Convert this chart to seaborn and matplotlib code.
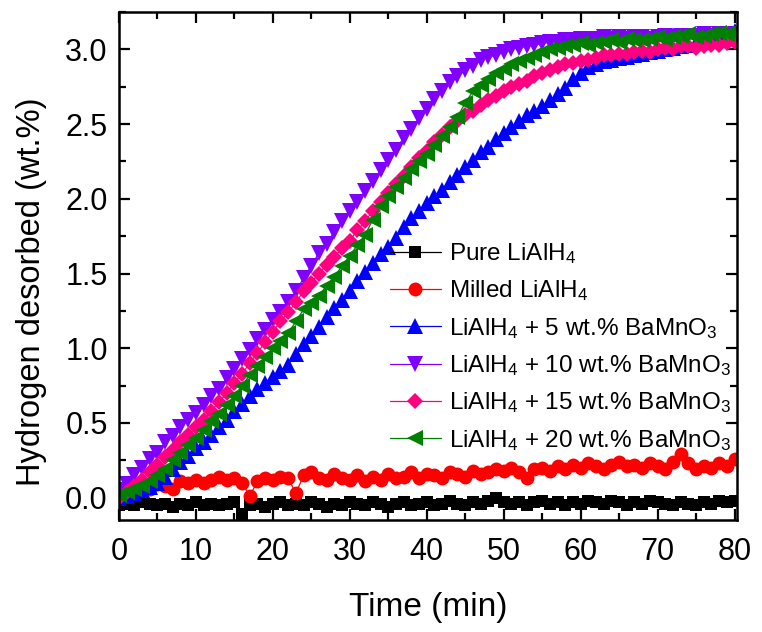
import numpy as np
import pandas as pd
import matplotlib
matplotlib.use("Agg")
import matplotlib.pyplot as plt
import seaborn as sns

time_min = list(range(0, 81))

pure = [-0.05, -0.04, -0.05, -0.03, -0.04, -0.05, -0.04, -0.06, -0.04, -0.05,
        -0.03, -0.05, -0.04, -0.05, -0.04, -0.03, -0.11, -0.05, -0.04, -0.06,
        -0.04, -0.03, -0.05, -0.04, -0.05, -0.03, -0.04, -0.06, -0.04, -0.05,
        -0.03, -0.04, -0.05, -0.03, -0.04, -0.06, -0.04, -0.03, -0.05, -0.04,
        -0.03, -0.05, -0.04, -0.02, -0.04, -0.05, -0.03, -0.04, -0.02, 0.00,
        -0.03, -0.04, -0.03, -0.05, -0.03, -0.02, -0.04, -0.03, -0.05, -0.03,
        -0.04, -0.02, -0.03, -0.04, -0.02, -0.03, -0.05, -0.03, -0.04, -0.02,
        -0.03, -0.04, -0.05, -0.03, -0.04, -0.05, -0.03, -0.04, -0.02, -0.03,
        -0.02]

milled = [0.02, 0.03, 0.05, 0.07, 0.06, 0.09, 0.08, 0.06, 0.11, 0.10,
          0.12, 0.10, 0.12, 0.14, 0.12, 0.13, 0.10, 0.01, 0.11, 0.13,
          0.12, 0.14, 0.13, 0.03, 0.15, 0.17, 0.13, 0.12, 0.16, 0.13,
          0.12, 0.15, 0.11, 0.14, 0.12, 0.16, 0.13, 0.14, 0.17, 0.13,
          0.16, 0.15, 0.13, 0.17, 0.16, 0.14, 0.18, 0.16, 0.17, 0.19,
          0.18, 0.20, 0.17, 0.13, 0.19, 0.20, 0.18, 0.21, 0.19, 0.22,
          0.20, 0.23, 0.21, 0.19, 0.22, 0.24, 0.21, 0.22, 0.20, 0.23,
          0.21, 0.19, 0.24, 0.29, 0.23, 0.19, 0.21, 0.20, 0.23, 0.21,
          0.26]

bamno_5 = [0.00, 0.01, 0.03, 0.05, 0.07, 0.10, 0.14, 0.19, 0.24, 0.28,
           0.33, 0.37, 0.42, 0.47, 0.52, 0.58, 0.63, 0.68, 0.73, 0.77,
           0.81, 0.85, 0.89, 0.96, 1.03, 1.08, 1.14, 1.21, 1.27, 1.32,
           1.38, 1.45, 1.51, 1.57, 1.63, 1.68, 1.74, 1.81, 1.87, 1.92,
           1.97, 2.02, 2.06, 2.11, 2.16, 2.21, 2.26, 2.31, 2.35, 2.40,
           2.44, 2.48, 2.52, 2.56, 2.59, 2.62, 2.66, 2.70, 2.74, 2.80,
           2.84, 2.88, 2.90, 2.92, 2.93, 2.94, 2.95, 2.96, 2.97, 2.98,
           2.99, 3.00, 3.01, 3.02, 3.03, 3.04, 3.05, 3.06, 3.08, 3.10,
           3.12]

bamno_10 = [0.05, 0.09, 0.15, 0.20, 0.26, 0.30, 0.37, 0.41, 0.47, 0.52,
            0.57, 0.62, 0.68, 0.73, 0.80, 0.86, 0.93, 0.99, 1.06, 1.12,
            1.19, 1.24, 1.31, 1.38, 1.47, 1.55, 1.64, 1.70, 1.78, 1.85,
            1.92, 1.98, 2.05, 2.12, 2.19, 2.26, 2.33, 2.41, 2.47, 2.54,
            2.60, 2.67, 2.72, 2.78, 2.82, 2.86, 2.89, 2.93, 2.95, 2.96,
            2.98, 3.00, 3.01, 3.02, 3.03, 3.04, 3.05, 3.05, 3.06, 3.06,
            3.07, 3.06, 3.07, 3.08, 3.07, 3.08, 3.07, 3.08, 3.08, 3.07,
            3.08, 3.09, 3.08, 3.09, 3.08, 3.09, 3.10, 3.09, 3.10, 3.09,
            3.10]

bamno_15 = [0.00, 0.04, 0.08, 0.12, 0.17, 0.22, 0.27, 0.32, 0.37, 0.42,
            0.47, 0.52, 0.58, 0.64, 0.70, 0.77, 0.83, 0.90, 0.97, 1.04,
            1.11, 1.18, 1.24, 1.31, 1.38, 1.44, 1.50, 1.56, 1.61, 1.67,
            1.72, 1.79, 1.85, 1.92, 1.98, 2.04, 2.10, 2.15, 2.21, 2.27,
            2.32, 2.38, 2.43, 2.48, 2.52, 2.56, 2.59, 2.63, 2.66, 2.69,
            2.72, 2.75, 2.77, 2.79, 2.82, 2.84, 2.86, 2.88, 2.90, 2.91,
            2.92, 2.93, 2.94, 2.96, 2.96, 2.97, 2.97, 2.98, 2.99, 2.98,
            3.00, 3.01, 3.00, 3.02, 3.02, 3.01, 3.02, 3.03, 3.03, 3.04,
            3.05]

bamno_20 = [0.02, 0.04, 0.06, 0.08, 0.11, 0.15, 0.19, 0.25, 0.30, 0.35,
            0.40, 0.45, 0.51, 0.56, 0.62, 0.68, 0.75, 0.82, 0.88, 0.94,
            1.00, 1.05, 1.10, 1.18, 1.26, 1.30, 1.35, 1.42, 1.48, 1.55,
            1.62, 1.69, 1.76, 1.86, 1.95, 2.02, 2.08, 2.14, 2.20, 2.25,
            2.30, 2.36, 2.42, 2.48, 2.55, 2.64, 2.72, 2.76, 2.80, 2.84,
            2.87, 2.90, 2.92, 2.94, 2.96, 2.98, 3.00, 3.01, 3.02, 3.03,
            3.04, 3.03, 3.04, 3.05, 3.06, 3.05, 3.07, 3.06, 3.06, 3.07,
            3.08, 3.07, 3.08, 3.09, 3.10, 3.08, 3.09, 3.10, 3.11, 3.10,
            3.10]

labels = ["Pure LiAlH$_4$",
          "Milled LiAlH$_4$",
          "LiAlH$_4$ + 5 wt.% BaMnO$_3$",
          "LiAlH$_4$ + 10 wt.% BaMnO$_3$",
          "LiAlH$_4$ + 15 wt.% BaMnO$_3$",
          "LiAlH$_4$ + 20 wt.% BaMnO$_3$"]
series = [pure, milled, bamno_5, bamno_10, bamno_15, bamno_20]
colors = ["#000000", "#ff0000", "#0000ff", "#8000ff", "#ff0080", "#008000"]
markers = ["s", "o", "^", "v", "D", "<"]
msizes = [8.5, 10, 11, 11, 8.5, 11]

sns.set_style("ticks")
plt.rcParams["font.family"] = ["Liberation Sans", "DejaVu Sans"]
plt.rcParams["mathtext.default"] = "regular"
plt.rcParams["text.color"] = "black"
plt.rcParams["axes.labelcolor"] = "black"
plt.rcParams["axes.edgecolor"] = "black"

fig = plt.figure(figsize=(7.62, 6.32), dpi=100)
ax = fig.add_axes([0.156, 0.177, 0.811, 0.804])

for vals, lab, col, mk, ms in zip(series, labels, colors, markers, msizes):
    df = pd.DataFrame({"t": time_min, "h": vals})
    sns.lineplot(data=df, x="t", y="h", ax=ax, color=col, marker=mk,
                 markersize=ms, markeredgewidth=0, linewidth=0.9,
                 label=lab, errorbar=None)

ax.set_xlim(0, 80.3)
ax.set_ylim(-0.15, 3.25)
ax.set_xticks(np.arange(0, 81, 10))
ax.set_xticks(np.arange(5, 81, 10), minor=True)
ax.set_yticks(np.arange(0, 3.01, 0.5))
ax.set_yticks(np.arange(0.25, 3.26, 0.5), minor=True)
ax.yaxis.set_major_formatter(matplotlib.ticker.FormatStrFormatter("%.1f"))

for s in ax.spines.values():
    s.set_visible(True)
    s.set_linewidth(1.8)
    s.set_color("black")
ax.tick_params(which="both", direction="in", top=True, right=True,
               width=1.6, labelsize=22, colors="black")
ax.tick_params(which="major", length=8, pad=8)
ax.tick_params(axis="x", which="major", pad=12)
ax.tick_params(which="minor", length=5)

ax.set_xlabel("Time (min)", fontsize=24, labelpad=18)
ax.set_ylabel("Hydrogen desorbed (wt.%)", fontsize=23.5)
ax.yaxis.set_label_coords(-0.117, 0.45)

ax.legend(loc="upper left", bbox_to_anchor=(0.438, 0.549), frameon=False,
          fontsize=17.5, handlelength=2.1, handletextpad=0.35,
          labelspacing=0.51, borderpad=0, borderaxespad=0, markerscale=1.0)

fig.savefig("out.png", dpi=100)
